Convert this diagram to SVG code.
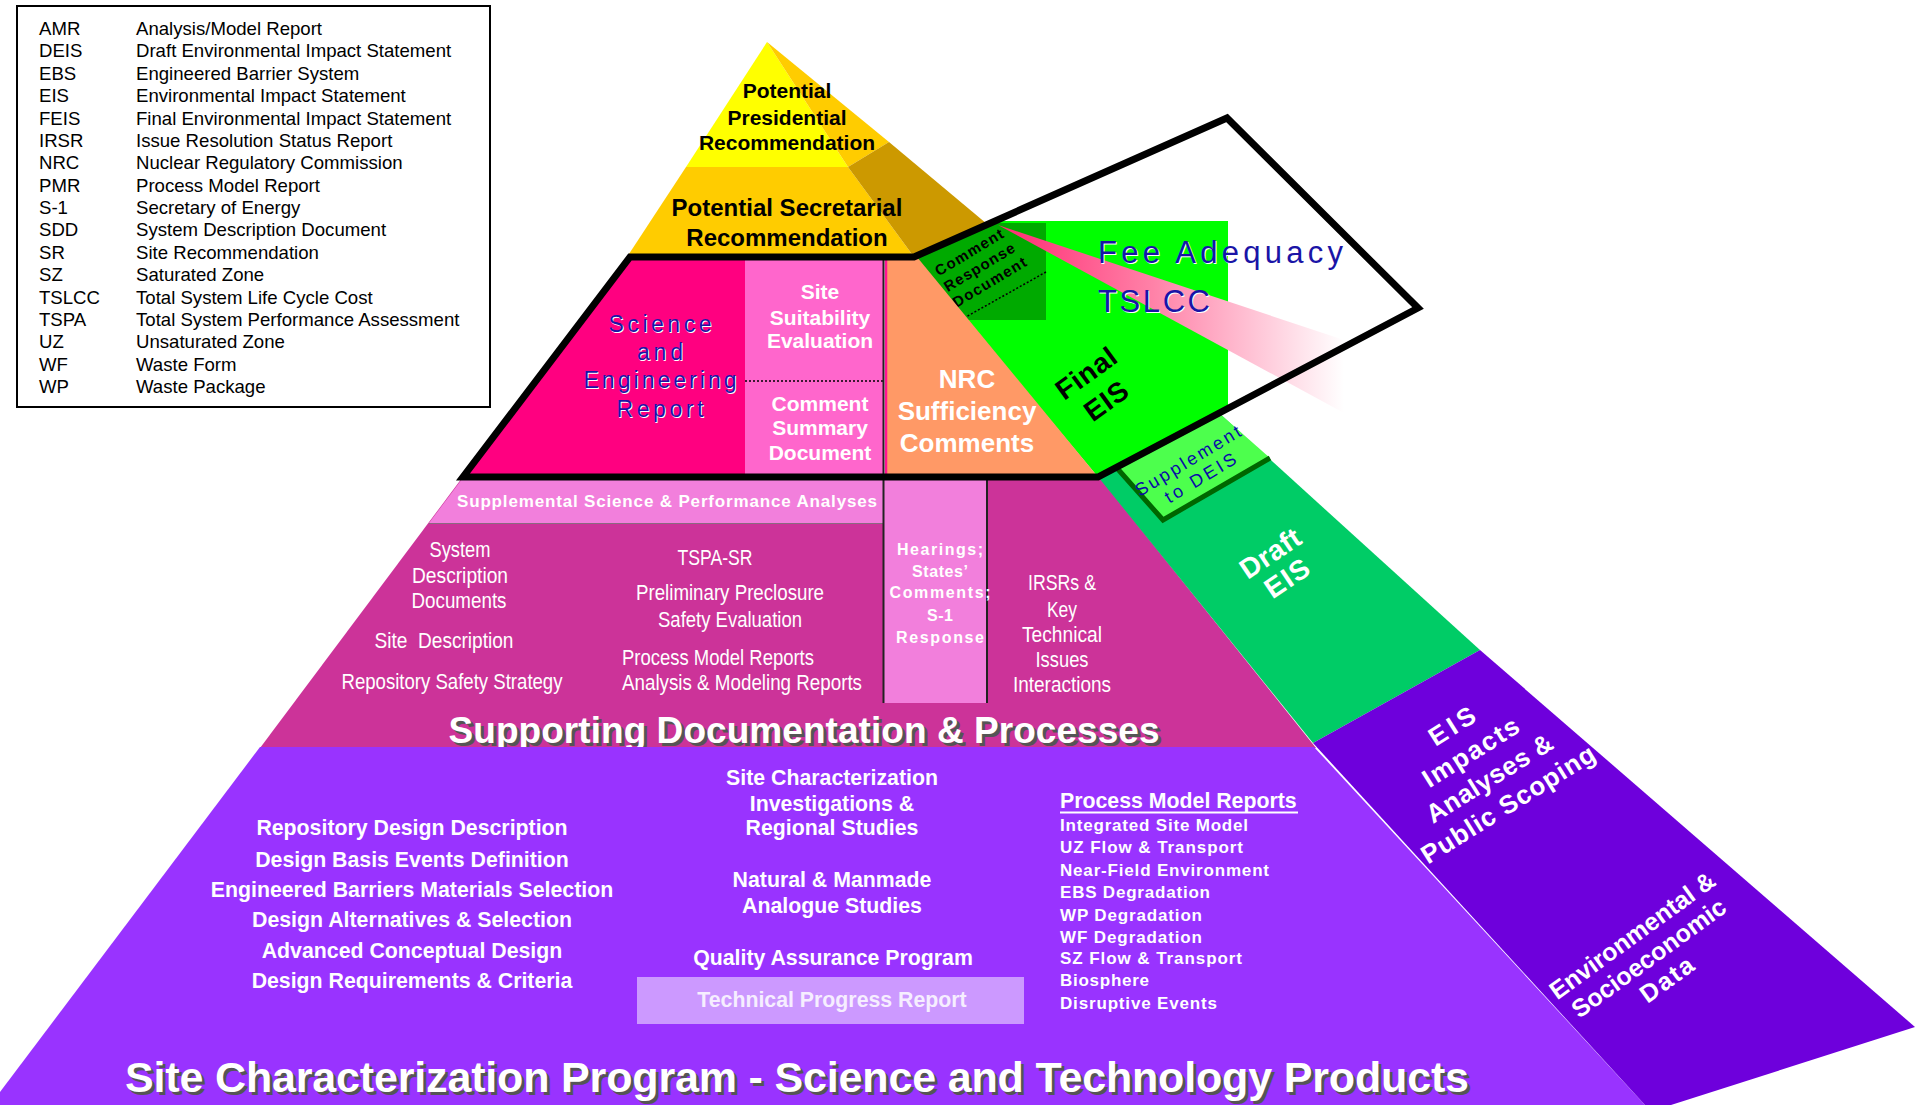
<svg xmlns="http://www.w3.org/2000/svg" width="1915" height="1105" viewBox="0 0 1915 1105">
<defs>
<linearGradient id="beam" x1="998" y1="0" x2="1344" y2="0" gradientUnits="userSpaceOnUse">
<stop offset="0" stop-color="#FF2A72"/>
<stop offset="0.45" stop-color="#FF82A8"/>
<stop offset="1" stop-color="#FFFFFF"/>
</linearGradient>
</defs>
<style>
text{font-family:"Liberation Sans",Arial,sans-serif}
.lg{font-size:18.6px;fill:#000}
.b{font-weight:bold}
.w{fill:#fff}
.k{fill:#000}
.c{text-anchor:middle}
.nar{font-family:"Liberation Sans Narrow","Liberation Sans",Arial,sans-serif;font-size:22px;fill:#fff;text-anchor:middle}
.blu{fill:#1A14A6}
.halo{fill:#fff}
.dv{font-family:"DejaVu Sans","Liberation Sans",sans-serif}
.sh{fill:#555}
.p21{font-size:21.3px;font-weight:bold;fill:#fff;text-anchor:middle}
.pm{font-size:17px;font-weight:bold;fill:#fff}
.hr{font-size:16px;font-weight:bold;fill:#fff;text-anchor:middle}
</style>
<rect width="1915" height="1105" fill="#fff"/>

<g id="legend">
<rect x="17" y="6" width="473" height="401" fill="#fff" stroke="#000" stroke-width="2"/>
<g class="lg">
<text x="39" y="35">AMR</text><text x="136" y="35">Analysis/Model Report</text>
<text x="39" y="57.4">DEIS</text><text x="136" y="57.4">Draft Environmental Impact Statement</text>
<text x="39" y="79.8">EBS</text><text x="136" y="79.8">Engineered Barrier System</text>
<text x="39" y="102.1">EIS</text><text x="136" y="102.1">Environmental Impact Statement</text>
<text x="39" y="124.5">FEIS</text><text x="136" y="124.5">Final Environmental Impact Statement</text>
<text x="39" y="146.9">IRSR</text><text x="136" y="146.9">Issue Resolution Status Report</text>
<text x="39" y="169.3">NRC</text><text x="136" y="169.3">Nuclear Regulatory Commission</text>
<text x="39" y="191.6">PMR</text><text x="136" y="191.6">Process Model Report</text>
<text x="39" y="214">S-1</text><text x="136" y="214">Secretary of Energy</text>
<text x="39" y="236.4">SDD</text><text x="136" y="236.4">System Description Document</text>
<text x="39" y="258.8">SR</text><text x="136" y="258.8">Site Recommendation</text>
<text x="39" y="281.1">SZ</text><text x="136" y="281.1">Saturated Zone</text>
<text x="39" y="303.5">TSLCC</text><text x="136" y="303.5">Total System Life Cycle Cost</text>
<text x="39" y="325.9">TSPA</text><text x="136" y="325.9">Total System Performance Assessment</text>
<text x="39" y="348.3">UZ</text><text x="136" y="348.3">Unsaturated Zone</text>
<text x="39" y="370.6">WF</text><text x="136" y="370.6">Waste Form</text>
<text x="39" y="393">WP</text><text x="136" y="393">Waste Package</text>
</g>
</g>

<g id="presidential">
<polygon points="767,42 686,167 848,167" fill="#FFFF00"/>
<polygon points="767,42 848,167 889,142" fill="#FFCC00"/>
<g class="b c k" font-size="21">
<text x="787" y="98">Potential</text>
<text x="787" y="125">Presidential</text>
<text x="787" y="150">Recommendation</text>
</g>
</g>

<g id="secretarial">
<polygon points="686,167 848,167 914,257 627,257" fill="#FFCC00"/>
<polygon points="848,167 889,142 987,224 914,257" fill="#CC9900"/>
<g class="b c k" font-size="24">
<text x="787" y="216">Potential Secretarial</text>
<text x="787" y="246">Recommendation</text>
</g>
</g>

<g id="final-eis">
<polygon points="914,257 996,221 1228,221 1228,408 1098,477" fill="#00FF00"/>
<g transform="translate(1086,373) rotate(-36)" class="b c k" font-size="28">
<text x="0" y="10" textLength="68">Final</text>
<text x="0" y="44" textLength="47">EIS</text>
</g>
</g>

<g id="comment-response">
<polygon points="915,257 991,223 1046,223 1046,320 968,320" fill="#00AA00"/>
<line x1="964" y1="318" x2="1046" y2="272" stroke="#000" stroke-width="1.5" stroke-dasharray="2,2"/>
<g transform="translate(969,252) rotate(-31)" class="b c k" font-size="15">
<text x="0" y="5.5" textLength="77">Comment</text>
<text x="1" y="23.5" textLength="80">Response</text>
<text x="2" y="41.5" textLength="83">Document</text>
</g>
</g>

<g id="fee-adequacy">
<polygon points="998,225 1344,340 1344,413" fill="url(#beam)"/>
<g class="dv" font-size="31">
<text class="halo" x="1099" y="264" textLength="245">Fee Adequacy</text>
<text class="blu" x="1098" y="263" textLength="245">Fee Adequacy</text>
<text class="halo" x="1099" y="313" textLength="112">TSLCC</text>
<text class="blu" x="1098" y="312" textLength="112">TSLCC</text>
</g>
</g>

<g id="science-engineering-report">
<polygon points="630,257 745,257 745,477 463,477" fill="#FF0080"/>
<g class="c dv" font-size="23">
<text class="halo" x="661" y="333" textLength="103">Science</text>
<text class="blu" x="660" y="332" textLength="103">Science</text>
<text class="halo" x="661" y="361" textLength="46">and</text>
<text class="blu" x="660" y="360" textLength="46">and</text>
<text class="halo" x="661" y="389" textLength="153">Engineering</text>
<text class="blu" x="660" y="388" textLength="153">Engineering</text>
<text class="halo" x="661" y="418" textLength="87">Report</text>
<text class="blu" x="660" y="417" textLength="87">Report</text>
</g>
</g>

<g id="site-suitability">
<rect x="745" y="257" width="138" height="220" fill="#FF66CC"/>
<line x1="745" y1="381" x2="883" y2="381" stroke="#000" stroke-width="1.5" stroke-dasharray="2,2"/>
<g class="b c w" font-size="21">
<text x="820" y="299">Site</text>
<text x="820" y="325">Suitability</text>
<text x="820" y="348">Evaluation</text>
<text x="820" y="411">Comment</text>
<text x="820" y="435">Summary</text>
<text x="820" y="460">Document</text>
</g>
</g>

<g id="nrc-sufficiency">
<polygon points="886,257 917,257 1098,477 886,477" fill="#FF9966"/>
<line x1="886" y1="257" x2="886" y2="477" stroke="#FF1493" stroke-width="2.5"/>
<g class="b c w" font-size="26">
<text x="967" y="388">NRC</text>
<text x="967" y="420">Sufficiency</text>
<text x="967" y="452">Comments</text>
</g>
</g>

<g id="supporting-documentation">
<polygon points="462,478 1100,478 1316,748 260,748" fill="#CC3399"/>
<text class="nar" x="460" y="557" textLength="61" lengthAdjust="spacingAndGlyphs">System</text>
<text class="nar" x="460" y="583" textLength="96" lengthAdjust="spacingAndGlyphs">Description</text>
<text class="nar" x="459" y="608" textLength="95" lengthAdjust="spacingAndGlyphs">Documents</text>
<text class="nar" x="444" y="648" textLength="139" lengthAdjust="spacingAndGlyphs" xml:space="preserve" style="white-space:pre">Site  Description</text>
<text class="nar" x="452" y="689" textLength="221" lengthAdjust="spacingAndGlyphs">Repository Safety Strategy</text>
<text class="nar" x="715" y="565" textLength="75" lengthAdjust="spacingAndGlyphs">TSPA-SR</text>
<text class="nar" x="730" y="600" textLength="188" lengthAdjust="spacingAndGlyphs">Preliminary Preclosure</text>
<text class="nar" x="730" y="627" textLength="144" lengthAdjust="spacingAndGlyphs">Safety Evaluation</text>
<text class="nar" x="718" y="665" textLength="192" lengthAdjust="spacingAndGlyphs">Process Model Reports</text>
<text class="nar" x="742" y="690" textLength="240" lengthAdjust="spacingAndGlyphs">Analysis &amp; Modeling Reports</text>
<text class="nar" x="1062" y="590" textLength="68" lengthAdjust="spacingAndGlyphs">IRSRs &amp;</text>
<text class="nar" x="1062" y="617" textLength="30" lengthAdjust="spacingAndGlyphs">Key</text>
<text class="nar" x="1062" y="642" textLength="80" lengthAdjust="spacingAndGlyphs">Technical</text>
<text class="nar" x="1062" y="667" textLength="53" lengthAdjust="spacingAndGlyphs">Issues</text>
<text class="nar" x="1062" y="692" textLength="98" lengthAdjust="spacingAndGlyphs">Interactions</text>
<text class="b c sh" x="807" y="746" font-size="37" textLength="711">Supporting Documentation &amp; Processes</text>
<text class="b c w" x="804" y="743" font-size="37" textLength="711">Supporting Documentation &amp; Processes</text>
</g>

<g id="supplemental-analyses">
<polygon points="462,479 883,479 883,523 429,523" fill="#F27FDC"/>
<line x1="429" y1="523.5" x2="902" y2="523.5" stroke="#8A6A80" stroke-width="1"/>
<text class="b c w" x="667" y="507" font-size="17" textLength="420">Supplemental Science &amp; Performance Analyses</text>
</g>

<g id="hearings">
<rect x="883" y="479" width="104" height="224" fill="#F27FDC"/>
<line x1="987" y1="479" x2="987" y2="703" stroke="#222" stroke-width="2"/>
<text class="hr" x="940" y="555" textLength="86">Hearings;</text>
<text class="hr" x="940" y="577" textLength="56">States’</text>
<text class="hr" x="940" y="598" textLength="101">Comments;</text>
<text class="hr" x="940" y="621" textLength="26">S-1</text>
<text class="hr" x="940" y="643" textLength="88">Response</text>
</g>

<g id="draft-eis">
<polygon points="1099,478 1219,413 1480,650 1313,743" fill="#00CC66"/>
<g transform="translate(1270,553) rotate(-34)" class="b c w" font-size="28">
<text x="0" y="10" textLength="67">Draft</text>
<text x="0" y="40" textLength="48">EIS</text>
</g>
</g>

<g id="supplement-deis">
<polygon points="1116,467 1163,520 1270,458 1219,413" fill="#4DFF4D"/>
<polyline points="1116,467 1163,520 1270,458" fill="none" stroke="#006600" stroke-width="5"/>
<g transform="translate(1188,461) rotate(-31)" class="c dv" font-size="18" fill="#0A0AA8">
<text x="0" y="6" textLength="120">Supplement</text>
<text x="2" y="27" textLength="80">to DEIS</text>
</g>
</g>

<g id="site-characterization">
<polygon points="260,747 1314,747 1645,1105 0,1105 0,1092" fill="#9933FF"/>
<g class="p21">
<text x="412" y="835">Repository Design Description</text>
<text x="412" y="867">Design Basis Events Definition</text>
<text x="412" y="897">Engineered Barriers Materials Selection</text>
<text x="412" y="927">Design Alternatives &amp; Selection</text>
<text x="412" y="958">Advanced Conceptual Design</text>
<text x="412" y="988">Design Requirements &amp; Criteria</text>
<text x="832" y="785">Site Characterization</text>
<text x="832" y="811">Investigations &amp;</text>
<text x="832" y="835">Regional Studies</text>
<text x="832" y="887">Natural &amp; Manmade</text>
<text x="832" y="913">Analogue Studies</text>
<text x="833" y="965">Quality Assurance Program</text>
</g>
<text class="b w" x="1060" y="808" font-size="21.3">Process Model Reports</text>
<line x1="1060" y1="812.5" x2="1298" y2="812.5" stroke="#fff" stroke-width="2"/>
<g class="pm">
<text x="1060" y="831" textLength="188">Integrated Site Model</text>
<text x="1060" y="853" textLength="183">UZ Flow &amp; Transport</text>
<text x="1060" y="876" textLength="209">Near-Field Environment</text>
<text x="1060" y="898" textLength="150">EBS Degradation</text>
<text x="1060" y="921" textLength="142">WP Degradation</text>
<text x="1060" y="943" textLength="142">WF Degradation</text>
<text x="1060" y="964" textLength="182">SZ Flow &amp; Transport</text>
<text x="1060" y="986" textLength="89">Biosphere</text>
<text x="1060" y="1009" textLength="157">Disruptive Events</text>
</g>
<text class="b c sh" x="800" y="1095" font-size="43" textLength="1344">Site Characterization Program - Science and Technology Products</text>
<text class="b c w" x="797" y="1092" font-size="43" textLength="1344">Site Characterization Program - Science and Technology Products</text>
</g>

<g id="technical-progress-report">
<rect x="637" y="977" width="387" height="47" fill="#CC99FF"/>
<text x="832" y="1007" font-size="21.3" font-weight="bold" fill="#F6EEFF" text-anchor="middle">Technical Progress Report</text>
</g>

<g id="eis-impacts">
<polygon points="1313,743 1480,650 1915,1027 1671,1105 1645,1105" fill="#6E00DC"/>
<g transform="translate(1452,726) rotate(-32)" class="b c w" font-size="26">
<text x="0" y="9" textLength="50">EIS</text>
<text x="2" y="41" textLength="109">Impacts</text>
<text x="4" y="73" textLength="144">Analyses &amp;</text>
<text x="6" y="105" textLength="200">Public Scoping</text>
</g>
<g transform="translate(1632,935) rotate(-36)" class="b c w" font-size="25">
<text x="0" y="9" textLength="198">Environmental &amp;</text>
<text x="0" y="37" textLength="184">Socioeconomic</text>
<text x="2" y="65" textLength="60">Data</text>
</g>
</g>

<g id="connectors">
<line x1="883.5" y1="257" x2="883.5" y2="703" stroke="#222" stroke-width="2"/>
<polygon points="630,257 914,257 1227,118 1418,308 1098,477 463,477" fill="none" stroke="#000" stroke-width="7" stroke-linejoin="miter"/>
</g>
</svg>
